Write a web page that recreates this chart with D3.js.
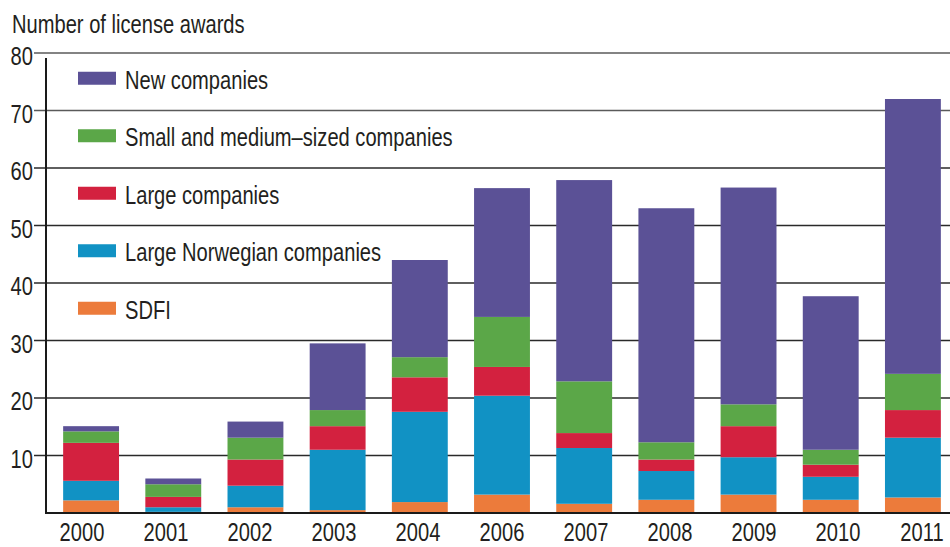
<!DOCTYPE html>
<html>
<head>
<meta charset="utf-8">
<script src="https://cdn.jsdelivr.net/npm/d3@7"></script>
<style>
  body { margin: 0; background: #fff; }
  text { font-family: "Liberation Sans", Arial, sans-serif; fill: #231f20; }
</style>
</head>
<body>
<svg id="chart" width="950" height="547"></svg>
<script>
// years on the x axis (no 2005 round)
var years = ["2000", "2001", "2002", "2003", "2004", "2006", "2007", "2008", "2009", "2010", "2011"];

// series, bottom to top
var sdfi        = [2.2, 0.2, 1.0, 0.5, 1.9, 3.2, 1.6, 2.3, 3.2, 2.3, 2.7];
var largeNorw   = [3.4, 0.8, 3.75, 10.5, 15.7, 17.2, 9.7, 5.0, 6.5, 4.0, 10.4];
var large       = [6.6, 1.8, 4.55, 4.1, 6.0, 5.0, 2.6, 2.0, 5.4, 2.1, 4.8];
var smallMedium = [2.0, 2.2, 3.8, 2.8, 3.5, 8.7, 9.0, 3.0, 3.8, 2.6, 6.3];
var newComp     = [0.9, 1.0, 2.8, 11.6, 16.9, 22.4, 35.0, 40.7, 37.7, 26.7, 47.8];

var yTicks = [10, 20, 30, 40, 50, 60, 70, 80];

var seriesNames = ["SDFI", "Large Norwegian companies", "Large companies", "Small and medium\u2013sized companies", "New companies"];
var seriesColors = ["#ec7b3b", "#1192c4", "#d3213f", "#5ba748", "#5b5196"];

var narrow = 0.805; // squeeze Liberation Sans into a narrow face

var svg = d3.select("#chart");

var y = d3.scaleLinear().domain([0, 80]).range([513, 53]);
var x = d3.scaleBand().domain(years).range([50, 954]).paddingInner(0.32).paddingOuter(0.16);
var xLabel = d3.scalePoint().domain(years).range([82, 922]);

function place(tx, ty) {
  return "translate(" + tx + "," + ty + ") scale(" + narrow + ",1)";
}

// build the stack table
var table = years.map(function(yr, i) {
  return { year: yr, s0: sdfi[i], s1: largeNorw[i], s2: large[i], s3: smallMedium[i], s4: newComp[i] };
});
var stack = d3.stack().keys(["s0", "s1", "s2", "s3", "s4"]);
var layers = stack(table);

// title
svg.append("text")
   .attr("transform", place(12, 33))
   .style("font-size", "25px")
   .text("Number of license awards");

// grid lines with left ticks
svg.selectAll(".grid")
   .data(yTicks)
   .enter()
     .append("line")
     .attr("class", "grid")
     .attr("x1", 34)
     .attr("x2", 950)
     .attr("y1", function(d) { return y(d); })
     .attr("y2", function(d) { return y(d); })
     .style("stroke", function(d) { return d >= 70 ? "#5a5a5a" : "#2a2a2a"; })
     .style("stroke-width", 1.4);

svg.selectAll(".ylab")
   .data(yTicks)
   .enter()
     .append("text")
     .attr("class", "ylab")
     .attr("transform", function(d) { return place(33, y(d) + 12); })
     .attr("text-anchor", "end")
     .style("font-size", "25px")
     .text(function(d) { return d; });

// bars
svg.selectAll(".layer")
   .data(layers)
   .enter()
     .append("g")
     .attr("class", "layer")
     .style("fill", function(d, i) { return seriesColors[i]; })
   .selectAll("rect")
   .data(function(d) { return d; })
   .enter()
     .append("rect")
     .attr("x", function(d) { return x(d.data.year); })
     .attr("width", x.bandwidth())
     .attr("y", function(d) { return y(d[1]); })
     .attr("height", function(d) { return y(d[0]) - y(d[1]); });

// axis lines
svg.append("line")
   .attr("x1", 46).attr("x2", 46)
   .attr("y1", 58).attr("y2", y(0))
   .style("stroke", "#1a1a1a").style("stroke-width", 2);

svg.append("line")
   .attr("x1", 45).attr("x2", 950)
   .attr("y1", y(0)).attr("y2", y(0))
   .style("stroke", "#1a1a1a").style("stroke-width", 2);

// year labels
svg.selectAll(".xlab")
   .data(years)
   .enter()
     .append("text")
     .attr("class", "xlab")
     .attr("transform", function(d) { return place(xLabel(d), 541); })
     .attr("text-anchor", "middle")
     .style("font-size", "25px")
     .text(function(d) { return d; });

// legend, top item first, one per grid band
var legendVals = [75, 65, 55, 45, 35];
var legend = svg.selectAll(".legend")
   .data(legendVals)
   .enter()
     .append("g")
     .attr("class", "legend")
     .attr("transform", function(d) { return "translate(78," + y(d) + ")"; });

legend.append("rect")
   .attr("x", 0)
   .attr("y", -10)
   .attr("width", 38)
   .attr("height", 13)
   .style("fill", function(d, i) { return seriesColors[4 - i]; });

legend.append("text")
   .attr("transform", place(47, 7))
   .style("font-size", "25px")
   .text(function(d, i) { return seriesNames[4 - i]; });
</script>
</body>
</html>
